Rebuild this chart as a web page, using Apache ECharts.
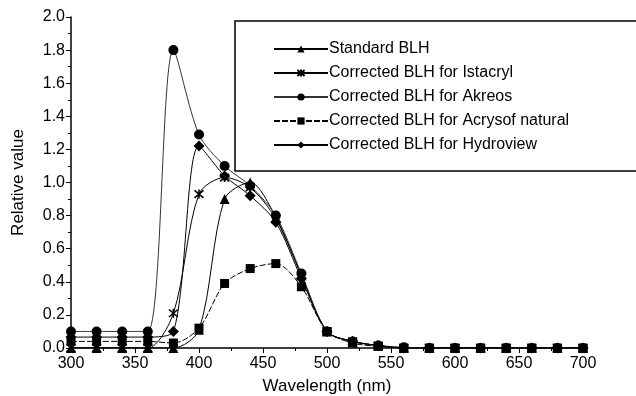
<!DOCTYPE html>
<html>
<head>
<meta charset="utf-8">
<script src="https://cdn.jsdelivr.net/npm/echarts@6/dist/echarts.min.js"></script>
<style>
  html, body { margin: 0; padding: 0; background: #fff; }
</style>
</head>
<body>
<div id="main" style="width: 636px;height:396px;"></div>
<script>
// wavelengths (nm)
var wavelength = [300, 320, 340, 360, 380, 400, 420, 440, 460, 480, 500, 520, 540, 560, 580, 600, 620, 640, 660, 680, 700];
// relative values
var standardBLH = [0, 0, 0, 0, 0, 0.11, 0.90, 1.00, 0.79, 0.44, 0.10, 0.04, 0.015, 0, 0, 0, 0, 0, 0, 0, 0];
var istacryl    = [0, 0, 0, 0, 0.21, 0.93, 1.03, 0.97, 0.78, 0.44, 0.10, 0.04, 0.015, 0, 0, 0, 0, 0, 0, 0, 0];
var akreos      = [0.10, 0.10, 0.10, 0.10, 1.80, 1.29, 1.10, 0.98, 0.80, 0.45, 0.10, 0.04, 0.015, 0.005, 0, 0, 0, 0, 0, 0, 0];
var acrysof     = [0.04, 0.04, 0.04, 0.04, 0.03, 0.12, 0.39, 0.48, 0.51, 0.37, 0.10, 0.03, 0.01, 0, 0, 0, 0, 0, 0, 0, 0];
var hydroview   = [0.066, 0.066, 0.066, 0.066, 0.10, 1.22, 1.04, 0.92, 0.76, 0.42, 0.10, 0.04, 0.015, 0, 0, 0, 0, 0, 0, 0, 0];

var seriesNames = ['Standard BLH', 'Corrected BLH for Istacryl', 'Corrected BLH for Akreos',
  'Corrected BLH for Acrysof natural', 'Corrected BLH for Hydroview'];

var starPath = 'path://M0,0L10,10M10,0L0,10M5,-1L5,11';

function pairs(vals) {
  return wavelength.map(function (w, i) { return [w, vals[i]]; });
}

function mkSeries(name, vals, symbol, size, extra) {
  var s = {
    name: name,
    type: 'line',
    data: pairs(vals),
    smooth: 0.3,
    symbol: symbol,
    symbolSize: size,
    showAllSymbol: true,
    lineStyle: { color: '#000', width: 1 },
    itemStyle: { color: '#000' },
    z: 3
  };
  if (extra) Object.assign(s, extra);
  return s;
}

var myChart = echarts.init(document.getElementById('main'));
var font = 'Liberation Sans, Arial, sans-serif';

var option = {
  animation: false,
  backgroundColor: '#fff',
  grid: { left: 71, right: 53, top: 17, bottom: 48, containLabel: false, outerBoundsMode: 'none' },
  graphic: [{
    type: 'rect',
    shape: { x: 235, y: 21, width: 420, height: 150 },
    style: { fill: '#fff', stroke: '#000', lineWidth: 1.5 },
    z: 1
  }],
  legend: {
    orient: 'vertical',
    left: 268,
    top: 36,
    itemWidth: 54,
    itemHeight: 9,
    itemGap: 8,
    textStyle: { color: '#000', fontSize: 16, fontFamily: font, padding: [0, 0, 0, -4] },
    data: seriesNames,
    z: 5
  },
  xAxis: {
    type: 'value',
    min: 300, max: 700, interval: 50,
    name: 'Wavelength (nm)',
    nameLocation: 'middle',
    nameGap: 30,
    nameTextStyle: { color: '#000', fontSize: 17, fontFamily: font },
    axisLine: { lineStyle: { color: '#000', width: 1.5 } },
    axisTick: { inside: false, length: 5, lineStyle: { color: '#000', width: 1 } },
    minorTick: { show: true, splitNumber: 2, length: 3, lineStyle: { color: '#000' } },
    axisLabel: { color: '#000', fontSize: 16, fontFamily: font, margin: 8 },
    splitLine: { show: false }
  },
  yAxis: {
    type: 'value',
    min: 0, max: 2, interval: 0.2,
    name: 'Relative value',
    nameLocation: 'middle',
    nameGap: 44,
    nameTextStyle: { color: '#000', fontSize: 17, fontFamily: font },
    axisLine: { show: true, lineStyle: { color: '#000', width: 1.5 } },
    axisTick: { show: true, inside: false, length: 5, lineStyle: { color: '#000', width: 1 } },
    minorTick: { show: true, splitNumber: 2, length: 3, lineStyle: { color: '#000' } },
    axisLabel: {
      color: '#000', fontSize: 16, fontFamily: font, margin: 6,
      formatter: function (v) { return v.toFixed(1); }
    },
    splitLine: { show: false }
  },
  series: [
    mkSeries(seriesNames[0], standardBLH, 'triangle', 10),
    mkSeries(seriesNames[1], istacryl, starPath, 9, {
      itemStyle: { color: '#000', borderColor: '#000', borderWidth: 1.6 }
    }),
    mkSeries(seriesNames[2], akreos, 'circle', 10, {
      lineStyle: { color: '#333', width: 1 }
    }),
    mkSeries(seriesNames[3], acrysof, 'rect', 9, {
      lineStyle: { color: '#000', width: 1, type: [6, 2] }
    }),
    mkSeries(seriesNames[4], hydroview, 'diamond', 11)
  ]
};

myChart.setOption(option);
</script>
</body>
</html>
